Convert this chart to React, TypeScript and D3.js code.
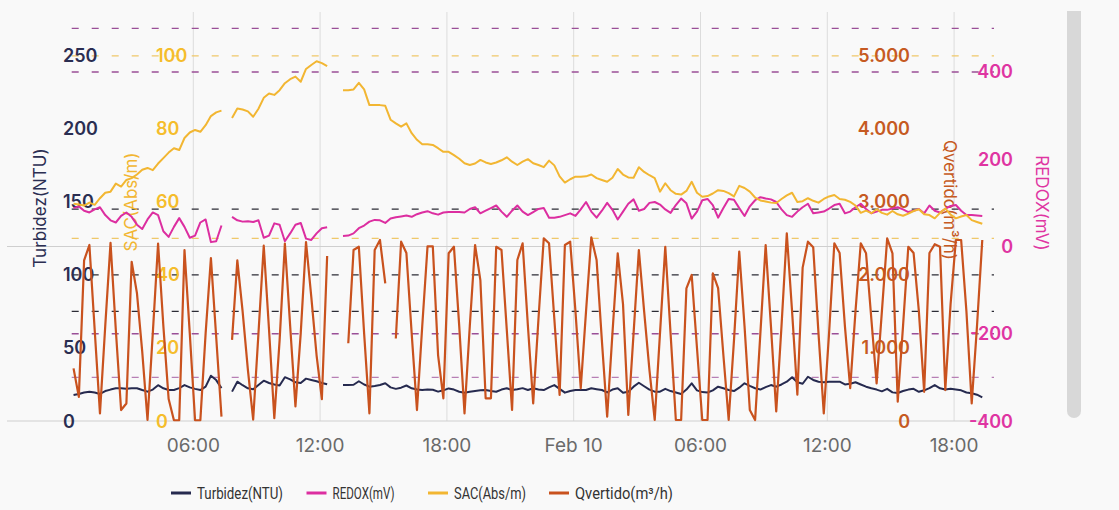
import React from "react";
import * as d3 from "d3";

// ---- data (15-minute samples starting Feb 9 00:20) ----
const START_TIME = new Date(2025, 1, 9, 0, 20);
const STEP_MINUTES = 15;

const turbidez: (number | null)[] = [
  17.8, 18.5, 19.5, 20.1, 19.5, 18.5, 20.5, 21.5, 22.4, 22.4, 22.0, 22.4, 22.4, 21.2, 20.1, 21.5, 24.5, 22.4, 21.2, 21.2,
  22.5, 24.6, 23.0, 22.0, 21.2, 23.5, 31.0, 28.0, 22.5, null,
  20.1, 26.9, 24.5, 22.4, 21.7, 24.6, 27.6, 26.0, 25.0, 24.3, 30.0, 28.5, 26.5, 26.0, 29.0, 28.1, 27.2, 26.0, 25.1,
  null, null,
  24.6, 24.6, 24.8, 27.2, 25.0, 23.5, 24.0, 24.6, 25.8, 23.0,
  22.0, 22.8, 24.3, 22.4, 21.5, 21.2, 21.5, 21.4, 20.1, 21.0,
  22.3, 21.5, 20.0, 19.4, 20.0, 20.6, 21.0, 21.2, 20.5, 20.0,
  21.5, 22.4, 21.2, 21.8, 22.5, 21.2, 22.4, 21.5, 21.2, 23.0,
  24.6, 22.0, 19.4, 20.5, 21.2, 21.2, 21.2, 22.4, 21.8, 21.2,
  19.6, 21.5, 22.4, 19.4, 20.0, 23.5, 26.2, 23.8, 21.5, 20.1,
  20.1, 22.0, 20.5, 19.5, 18.5, 21.5, 25.8, 21.0, 19.8, 19.5,
  21.0, 23.5, 22.4, 21.2, 20.5, 22.8, 25.8, 24.0, 22.4, 21.5,
  23.2, 24.6, 23.5, 25.0, 26.9, 30.0, 26.5, 25.5, 30.3, 28.1,
  26.9, 26.5, 26.9, 26.9, 26.9, 25.0, 25.5, 26.5, 25.0, 23.5,
  22.4, 21.5, 20.3, 22.0, 19.6, 19.2, 20.5, 21.5, 22.0, 20.0,
  21.0, 22.5, 24.6, 22.4, 21.5, 22.0, 21.5, 21.0, 19.5, 19.0,
  18.0, 16.2,
];

const redox: (number | null)[] = [
  88, 92, 82, 78, 85, 90, 72, 60, 55, 70, 78, 68, 50, 40, 62, 78, 72, 35, 22, 45,
  65, 45, 20, 25, 55, 62, 10, 12, 48, null,
  68, 60, 57, 58, 56, 60, 20, 25, 53, 50, 12, 30, 50, 54, 18, 15, 30, 42, 44,
  null, null,
  24, 25, 30, 42, 48, 57, 61, 60, 54, 64,
  67, 69, 71, 68, 74, 78, 81, 76, 73, 78,
  79, 79, 79, 78, 86, 90, 76, 82, 88, 94,
  80, 68, 82, 94, 80, 72, 79, 86, 88, 66,
  66, 68, 72, 76, 70, 85, 102, 80, 66, 82,
  100, 84, 62, 80, 98, 108, 82, 86, 100, 102,
  96, 85, 77, 95, 110, 99, 64, 80, 106, 109,
  95, 66, 88, 109, 107, 88, 70, 92, 106, 113,
  110, 108, 102, 85, 72, 68, 80, 90, 98, 76,
  78, 80, 87, 95, 98, 76, 80, 90, 98, 86,
  76, 80, 84, 84, 87, 90, 85, 79, 82, 86,
  76, 94, 82, 78, 86, 93, 95, 82, 72, 72,
  71, 70,
];

const sac: (number | null)[] = [
  59.5, 59.3, 59.0, 59.8, 59.2, 61.0, 62.5, 62.8, 65.0, 64.2, 66.0, 66.5, 67.5, 68.8, 69.3, 68.7, 70.5, 72.0, 73.5, 74.7,
  74.2, 77.5, 79.0, 79.7, 79.2, 81.0, 83.5, 84.5, 85.0, null,
  83.0, 85.6, 85.3, 84.8, 83.3, 85.5, 88.5, 89.7, 89.3, 90.6, 92.5, 93.6, 94.3, 92.9, 96.4, 97.5, 98.5, 98.0, 97.2,
  null, null,
  90.6, 90.6, 90.8, 92.6, 90.8, 86.5, 86.5, 86.5, 86.3, 82.5,
  81.5, 80.6, 81.5, 78.8, 77.0, 75.8, 75.8, 75.6, 74.7, 73.7,
  73.7, 72.8, 71.8, 70.6, 70.1, 70.5, 71.5, 70.8, 70.4, 70.8,
  71.4, 72.2, 71.0, 70.1, 71.0, 71.7, 70.6, 70.1, 69.5, 71.3,
  70.0, 67.0, 65.3, 66.2, 66.9, 66.9, 67.0, 67.5, 66.5, 66.0,
  65.5, 66.6, 69.0, 67.5, 66.7, 66.6, 69.5, 68.2, 67.3, 66.5,
  62.8, 65.1, 63.2, 62.2, 62.0, 63.0, 65.5, 62.5, 61.4, 61.6,
  62.3, 63.2, 63.0, 62.4, 61.5, 64.4, 63.8, 62.8, 61.2, 60.4,
  60.1, 59.8, 59.7, 60.8, 61.8, 62.5, 60.0, 60.2, 61.0, 60.3,
  59.8, 60.8, 61.5, 61.9, 60.8, 60.6, 60.0, 59.0, 57.0, 57.6,
  56.9, 58.0, 57.0, 56.5, 57.5, 56.6, 56.2, 56.8, 57.5, 58.0,
  56.6, 56.4, 55.5, 57.0, 58.2, 56.5, 55.5, 56.0, 56.4, 55.0,
  54.5, 54.0,
];

const qvertido: (number | null)[] = [
  720, 330, 2200, 2410, 1250, 105, 1300, 2440, 1250, 150, 240, 2180, 1750, 950, 14, 1200, 2430, 1300, 300, 10,
  10, 2340, 1200, 10, 10, 1200, 2230, 1150, 60, null,
  1110, 2200, 1500, 700, 20, 1200, 2400, 1250, 40, 1100, 2430, 1300, 200, 1200, 2450, 1700, 900, 300, 2260,
  null, null,
  null, 1064, 2341, 2386, 1200, 105, 2341, 2478, 1885, null,
  1130, 2455, 2300, 1200, 150, 1300, 2390, 2390, 900, 311,
  2296, 2386, 1300, 105, 1300, 2410, 1930, 311, 311, 2386,
  2341, 1250, 151, 2204, 2433, 1300, 242, 1400, 2501, 2433,
  1400, 356, 2410, 2455, 1500, 448, 1500, 2515, 2204, 1100,
  59, 1200, 2296, 1600, 82, 1200, 2341, 1500, 700, 14,
  1200, 2386, 1200, 14, 14, 1817, 1999, 1000, 14, 14,
  2020, 1820, 900, 14, 1100, 2320, 1300, 150, 14, 1200,
  2410, 1300, 130, 1300, 2570, 1500, 360, 2100, 2455, 2380,
  1200, 105, 1200, 2433, 2300, 1300, 450, 1500, 2433, 2296,
  1400, 516, 1500, 2500, 2296, 265, 1300, 2386, 2300, 1500,
  400, 2300, 2420, 2386, 424, 1600, 2478, 2478, 1500, 242,
  1300, 2478,
];

const turbidezTicks = [0, 50, 100, 150, 200, 250];
const sacTicks = [0, 20, 40, 60, 80, 100];
const qvertidoTicks = [0, 1000, 2000, 3000, 4000, 5000];
const redoxTicks = [-400, -200, 0, 200, 400];

const redoxMarks = [500, 400, -200, -300];
const sacMarks = [100, 50];
const turbidezMarks = [145, 100, 75];

const legendItems = [
  { name: "Turbidez(NTU)", color: "#262a4f" },
  { name: "REDOX(mV)", color: "#dc2ea0" },
  { name: "SAC(Abs/m)", color: "#f2b632" },
  { name: "Qvertido(m³/h)", color: "#c9521e" },
];

const C_TURB = "#262a4f";
const C_REDOX = "#dc2ea0";
const C_SAC = "#f2b632";
const C_Q = "#c9521e";

export default function App() {
  const W = 1119;
  const H = 510;
  const top = 12;
  const bottom = 421;

  const x = d3
    .scaleTime()
    .domain([new Date(2025, 1, 9, 0, 0), new Date(2025, 1, 10, 18, 0)])
    .range([66.5, 954.1]);
  const yT = d3.scaleLinear().domain([0, 280]).range([bottom, top]);
  const yS = d3.scaleLinear().domain([0, 112]).range([bottom, top]);
  const yQ = d3.scaleLinear().domain([0, 5600]).range([bottom, top]);
  const yR = d3.scaleLinear().domain([-400, 537.5]).range([bottom, top]);

  const times = turbidez.map((_, i) => new Date(START_TIME.getTime() + i * STEP_MINUTES * 60000));
  const mkLine = (vals: (number | null)[], y: d3.ScaleLinear<number, number>) =>
    d3
      .line<number | null>()
      .defined((v) => v != null)
      .x((_, i) => x(times[i]))
      .y((v) => y(v as number))(vals) || "";

  const xTicks = d3.timeHour.every(6)!.range(new Date(2025, 1, 9, 6, 0), new Date(2025, 1, 10, 18, 1));
  const fmtX = (d: Date) => (d.getHours() === 0 ? d3.timeFormat("%b %-d")(d) : d3.timeFormat("%H:%M")(d));
  const fmtQ = (v: number) => d3.format(",")(v).replace(/,/g, ".");

  const numFont = "Inter, 'Noto Sans', sans-serif";
  const dashX0 = 71.7;
  const dashX1 = 994;

  const legendX = [171, 306.5, 428, 549];
  const legendW = [86, 62, 72, 98];

  return (
    <svg
      width={W}
      height={H}
      style={{ position: "absolute", left: 0, top: 0, background: "#f9f9f9" }}
      xmlns="http://www.w3.org/2000/svg"
    >
      <rect x={0} y={0} width={W} height={H} fill="#f9f9f9" />

      {/* vertical grid lines */}
      {xTicks.map((t, i) => (
        <line key={"vg" + i} x1={x(t)} x2={x(t)} y1={top} y2={bottom} stroke="#dcdcdc" strokeWidth={1} />
      ))}

      {/* base lines */}
      <line x1={7} x2={984} y1={yR(0)} y2={yR(0)} stroke="#cfcfcf" strokeWidth={1} />
      <line x1={7} x2={984} y1={bottom} y2={bottom} stroke="#cfcfcf" strokeWidth={1} />

      {/* threshold dashed lines */}
      {redoxMarks.map((v, i) => (
        <line key={"rm" + i} x1={dashX0} x2={dashX1} y1={yR(v)} y2={yR(v)} stroke={v === -300 ? "#b77fb5" : "#9a4f97"} strokeWidth={1.3} strokeDasharray="7 13" />
      ))}
      {sacMarks.map((v, i) => (
        <line key={"sm" + i} x1={dashX0} x2={dashX1} y1={yS(v)} y2={yS(v)} stroke="#efc86a" strokeWidth={1.3} strokeDasharray="7 13" />
      ))}
      {turbidezMarks.map((v, i) => (
        <line key={"tm" + i} x1={dashX0} x2={dashX1} y1={yT(v)} y2={yT(v)} stroke="#2c2c36" strokeWidth={1.3} strokeDasharray="7 13" />
      ))}

      {/* y-axis tick labels */}
      {turbidezTicks.map((v) => (
        <text key={"tt" + v} x={63} y={yT(v)} dominantBaseline="central" fontFamily={numFont} fontWeight={600} fontSize={18} fill="#2b2e52">
          {v}
        </text>
      ))}
      {sacTicks.map((v) => (
        <text key={"st" + v} x={156} y={yS(v)} dominantBaseline="central" fontFamily={numFont} fontWeight={600} fontSize={18} fill="#f5bd2c">
          {v}
        </text>
      ))}
      {qvertidoTicks.map((v) => (
        <text key={"qt" + v} x={910} y={yQ(v)} textAnchor="end" dominantBaseline="central" fontFamily={numFont} fontWeight={600} fontSize={18} fill="#c65a22">
          {fmtQ(v)}
        </text>
      ))}
      {redoxTicks.map((v) => (
        <text key={"rt" + v} x={1013} y={yR(v)} textAnchor="end" dominantBaseline="central" fontFamily={numFont} fontWeight={600} fontSize={18} fill="#df35a2">
          {v}
        </text>
      ))}

      {/* axis titles */}
      <text transform="translate(40,208) rotate(-90)" textAnchor="middle" dominantBaseline="central" fontFamily={numFont} fontSize={17} fill="#2b2e52">
        Turbidez(NTU)
      </text>
      <text transform="translate(130.5,202) rotate(-90)" textAnchor="middle" dominantBaseline="central" fontFamily={numFont} fontSize={17} fill="#f2b632">
        SAC(Abs/m)
      </text>
      <text transform="translate(950,200) rotate(90)" textAnchor="middle" dominantBaseline="central" fontFamily={numFont} fontSize={17} fill="#c65a22">
        Qvertido(m³/h)
      </text>
      <text transform="translate(1042,203) rotate(90)" textAnchor="middle" dominantBaseline="central" fontFamily={numFont} fontSize={17} fill="#df35a2">
        REDOX(mV)
      </text>

      {/* x-axis labels */}
      {xTicks.map((t, i) => (
        <text key={"xl" + i} x={x(t)} y={445} textAnchor="middle" dominantBaseline="central" fontFamily={numFont} fontSize={19} fill="#6a6a6a">
          {fmtX(t)}
        </text>
      ))}

      {/* series */}
      <path d={mkLine(turbidez, yT)} fill="none" stroke={C_TURB} strokeWidth={2} strokeLinejoin="round" />
      <path d={mkLine(redox, yR)} fill="none" stroke={C_REDOX} strokeWidth={2} strokeLinejoin="round" />
      <path d={mkLine(sac, yS)} fill="none" stroke={C_SAC} strokeWidth={2} strokeLinejoin="round" />
      <path d={mkLine(qvertido, yQ)} fill="none" stroke={C_Q} strokeWidth={2.2} strokeLinejoin="round" />

      {/* legend */}
      {legendItems.map((it, i) => (
        <g key={"lg" + i} transform={`translate(${legendX[i]},493)`}>
          <line x1={0} x2={20} y1={0} y2={0} stroke={it.color} strokeWidth={3} />
          <text
            x={26}
            y={0}
            dominantBaseline="central"
            fontFamily="Roboto, sans-serif"
            fontSize={16}
            fill="#333"
            textLength={legendW[i]}
            lengthAdjust="spacingAndGlyphs"
          >
            {it.name}
          </text>
        </g>
      ))}

      {/* scrollbar */}
      <rect x={1067} y={11} width={14} height={407} rx={7} fill="#d8d8d8" />
      <rect x={1067} y={11} width={14} height={12} fill="#d8d8d8" />
    </svg>
  );
}
